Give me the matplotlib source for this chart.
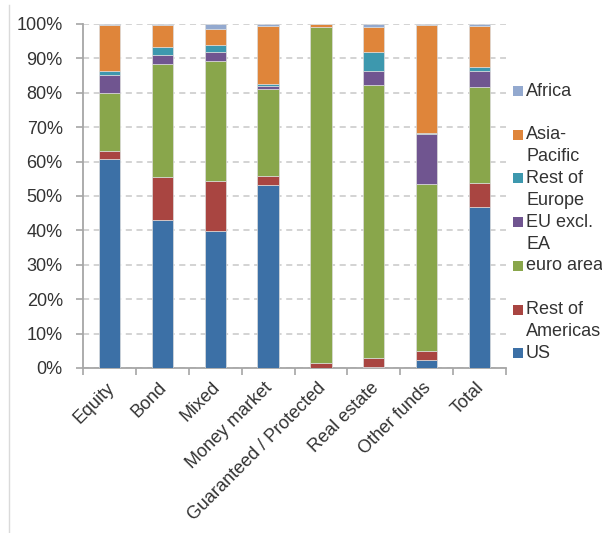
import matplotlib
matplotlib.use("Agg")
import matplotlib.pyplot as plt
from matplotlib.patches import Rectangle
from matplotlib.ticker import PercentFormatter, MultipleLocator, FixedLocator
from matplotlib.transforms import ScaledTranslation
import numpy as np

plt.rcParams['font.family'] = ['Liberation Sans', 'DejaVu Sans']

categories = ["Equity", "Bond", "Mixed", "Money market", "Guaranteed / Protected",
              "Real estate", "Other funds", "Total"]

# Shares (%) by region, stacked from the bottom up
us            = [60.8, 43.1, 39.7, 53.1, 0.1, 0.2, 2.3, 46.9]
rest_americas = [2.4, 12.5, 14.7, 2.8, 1.4, 2.8, 2.6, 6.8]
euro_area     = [16.7, 32.7, 34.8, 25.2, 97.6, 79.3, 48.5, 27.9]
eu_excl_ea    = [5.4, 2.7, 2.6, 0.8, 0.0, 4.1, 14.5, 4.6]
rest_europe   = [1.1, 2.2, 2.0, 0.7, 0.0, 5.6, 0.3, 1.4]
asia_pacific  = [13.4, 6.4, 4.8, 16.8, 0.9, 7.0, 31.5, 11.7]
africa        = [0.2, 0.4, 1.4, 0.6, 0.0, 1.0, 0.3, 0.7]

series_names = ["US", "Rest of\nAmericas", "euro area", "EU excl.\nEA",
                "Rest of\nEurope", "Asia-\nPacific", "Africa"]
series_values = [us, rest_americas, euro_area, eu_excl_ea, rest_europe, asia_pacific, africa]
series_colors = ["#3c70a6", "#a94541", "#89a64b", "#705590", "#3d98ae", "#df853a", "#93a9cf"]

W, H = 602, 533
FS = 13
fig = plt.figure(figsize=(W / 100, H / 100), dpi=100)
ax = fig.add_axes([83 / W, 1 - 368 / H, (506 - 83) / W, (368 - 24) / H])

x = np.arange(len(categories))
bottom = np.zeros(len(categories))
for vals, col in zip(series_values, series_colors):
    v = np.array(vals)
    ax.bar(x, v, width=0.4, bottom=bottom, color=col, edgecolor="#dcdcdc",
           linewidth=0.5, zorder=3)
    bottom += v

ax.set_xlim(-0.5, len(categories) - 0.5)
ax.set_ylim(0, 100)
ax.yaxis.set_major_locator(MultipleLocator(10))
ax.yaxis.set_major_formatter(PercentFormatter(decimals=0))
ax.grid(axis="y", color="#c8c8c8", linestyle=(0, (4, 3)), linewidth=1.1, zorder=0)

for side in ("top", "right"):
    ax.spines[side].set_visible(False)
for side in ("left", "bottom"):
    ax.spines[side].set_color("#a6a6a6")
    ax.spines[side].set_linewidth(1.3)

axis_text = "#333333"
ax.tick_params(axis="y", colors="#a6a6a6", length=5, width=1.2, pad=9.5,
               labelsize=FS, labelcolor=axis_text)
ax.set_xticks(x)
ax.set_xticklabels(categories, rotation=45, ha="right", rotation_mode="anchor",
                   fontsize=FS, color=axis_text)
ax.tick_params(axis="x", which="major", length=0, pad=8)
ax.xaxis.set_minor_locator(FixedLocator(np.arange(-0.5, len(categories), 1.0)))
ax.tick_params(axis="x", which="minor", length=5, width=1.2, colors="#a6a6a6")
shift = ScaledTranslation(-4 / 100, 0, fig.dpi_scale_trans)
for lbl in ax.get_xticklabels():
    lbl.set_transform(lbl.get_transform() + shift)

# Legend drawn by hand, top entry first
legend_top = 91
legend_step = 43.7
line_gap = 22
for i, (name, col) in enumerate(zip(series_names[::-1], series_colors[::-1])):
    yc = legend_top + i * legend_step
    fig.add_artist(Rectangle((513 / W, 1 - (yc + 5) / H), 10 / W, 10 / H,
                             transform=fig.transFigure, facecolor=col,
                             edgecolor="none"))
    for j, line in enumerate(name.split("\n")):
        fig.text(526 / W, 1 - (yc + j * line_gap) / H, line, fontsize=FS,
                 color=axis_text, ha="left", va="center")

# Thin frame edge at the left
fig.add_artist(plt.Line2D([9 / W, 9 / W], [0, 1 - 5 / H], transform=fig.transFigure,
                          color="#dadada", linewidth=1.0))

fig.savefig("out.png", dpi=100)
